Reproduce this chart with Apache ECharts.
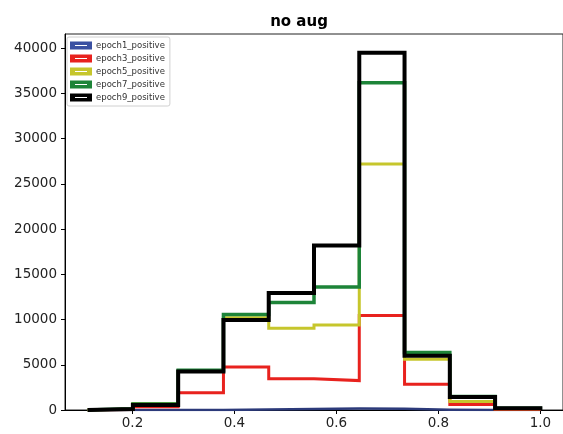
<!DOCTYPE html>
<html>
<head>
<meta charset="utf-8">
<script src="https://cdn.jsdelivr.net/npm/echarts@6/dist/echarts.min.js"></script>
<style>
  html, body { margin: 0; padding: 0; background: #fff; }
  #chart { width: 563px; height: 434px; }
</style>
</head>
<body>
<div id="chart"></div>
<script>
// bin edges of the histogram (10 bins)
const edges = [0.112, 0.2008, 0.2896, 0.3784, 0.4672, 0.556, 0.6448, 0.7336, 0.8224, 0.9112, 1.0];

// counts per bin
const epoch1 = [0, 0, 10, 60, 120, 160, 130, 20, 5, 0];
const epoch3 = [50, 350, 1900, 4750, 3450, 3250, 10450, 2850, 600, 50];
const epoch5 = [100, 700, 4300, 10200, 9050, 9400, 27200, 5600, 950, 150];
const epoch7 = [150, 650, 4400, 10550, 11900, 13600, 36200, 6350, 1500, 200];
const epoch9 = [100, 550, 4250, 9950, 12950, 18200, 39500, 6000, 1450, 200];

const names = ['epoch1_positive', 'epoch3_positive', 'epoch5_positive', 'epoch7_positive', 'epoch9_positive'];
const xTicks = [0.2, 0.4, 0.6, 0.8, 1.0];
const yTicks = [0, 5000, 10000, 15000, 20000, 25000, 30000, 35000, 40000];

const colors = ['#2c3a7a', '#e8221e', '#c6c62c', '#1d8438', '#000000'];
const widths = [2.5, 3, 3, 3.5, 4];

// outline like matplotlib histtype='step'
function stepPoints(counts) {
  const pts = [[edges[0], 0]];
  for (let i = 0; i < counts.length; i++) {
    pts.push([edges[i], counts[i]]);
    pts.push([edges[i + 1], counts[i]]);
  }
  pts.push([edges[edges.length - 1], 0]);
  return pts;
}

const allCounts = [epoch1, epoch3, epoch5, epoch7, epoch9];
const series = allCounts.map(function (c, i) {
  return {
    name: names[i],
    type: 'line',
    data: stepPoints(c),
    symbol: 'none',
    color: colors[i],
    lineStyle: { width: widths[i], color: colors[i], join: 'miter' },
    animation: false,
    z: 2 + i
  };
});
// legend patch colour for epoch1 is a lighter blue
series[0].itemStyle = { color: '#3a50a2' };

const icon = 'path://M0,0L22,0L22,8L0,8Z M5,3.4L5,4.6L17,4.6L17,3.4Z';

const chart = echarts.init(document.getElementById('chart'));
chart.setOption({
  animation: false,
  title: {
    text: 'no aug',
    left: 294,
    textAlign: 'center',
    top: 10,
    textStyle: { fontFamily: 'DejaVu Sans', fontWeight: 'bold', fontSize: 15, color: '#000' }
  },
  legend: {
    data: names.map(function (n) { return { name: n, icon: icon }; }),
    orient: 'vertical',
    left: 67,
    top: 37,
    itemWidth: 22,
    itemHeight: 8,
    itemGap: 4,
    padding: [4, 5, 4, 3],
    backgroundColor: '#fff',
    borderColor: '#d0d0d0',
    borderWidth: 1,
    borderRadius: 2,
    textStyle: { fontFamily: 'DejaVu Sans', fontSize: 8.5, color: '#333', padding: [0, 0, 0, -1] }
  },
  grid: {
    left: 65,
    right: -6,
    top: 34,
    bottom: 24,
    show: true,
    borderColor: '#222',
    borderWidth: 1
  },
  xAxis: {
    type: 'value',
    min: 0.0676,
    max: 1.0444,
    splitLine: { show: false },
    axisLine: { onZero: false, lineStyle: { color: '#000', width: 1 } },
    axisTick: { customValues: xTicks, length: 4, lineStyle: { color: '#000' } },
    axisLabel: {
      customValues: xTicks,
      formatter: function (v) { return v.toFixed(1); },
      fontFamily: 'DejaVu Sans', fontSize: 13.5, color: '#222', margin: 6
    }
  },
  yAxis: {
    type: 'value',
    min: 0,
    max: 41580,
    splitLine: { show: false },
    axisLine: { show: true, lineStyle: { color: '#000', width: 1 } },
    axisTick: { show: true, customValues: yTicks, length: 4, lineStyle: { color: '#000' } },
    axisLabel: {
      customValues: yTicks,
      formatter: function (v) { return String(v); },
      fontFamily: 'DejaVu Sans', fontSize: 13.5, color: '#222', margin: 8
    }
  },
  series: series
});
</script>
</body>
</html>
